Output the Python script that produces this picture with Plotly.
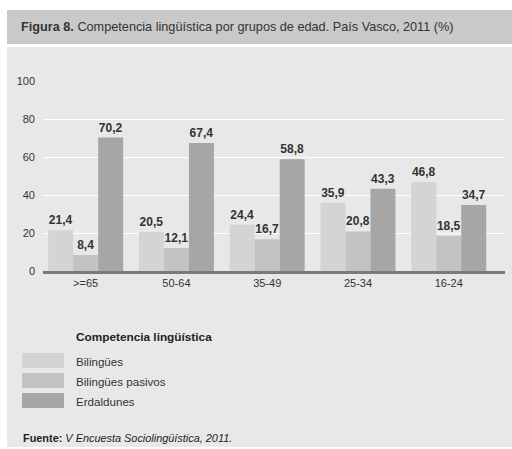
import plotly.graph_objects as go

categories = [">=65", "50-64", "35-49", "25-34", "16-24"]
series_names = ["Bilingües", "Bilingües pasivos", "Erdaldunes"]
bilingues = [21.4, 20.5, 24.4, 35.9, 46.8]
pasivos = [8.4, 12.1, 16.7, 20.8, 18.5]
erdaldunes = [70.2, 67.4, 58.8, 43.3, 34.7]
y_ticks = [0, 20, 40, 60, 80, 100]

values = [bilingues, pasivos, erdaldunes]
colors = ["#d4d4d4", "#c3c3c3", "#a6a6a6"]
FONT = "Liberation Sans"

W, H = 512, 449
L, R, T, B = 43, 7, 81, 178
PW, PH = W - L - R, H - T - B


def px(x):
    return (x - L) / PW


def py(y):
    return (H - B - y) / PH


fig = go.Figure()
for name, vals, col in zip(series_names, values, colors):
    fig.add_trace(go.Bar(
        x=categories, y=vals, name=name, marker=dict(color=col, line=dict(width=0)),
        texttemplate="<b>%{y:.1f}</b>", textposition="outside", cliponaxis=False,
        textfont=dict(family=FONT, size=12, color="#333333"),
        showlegend=False,
    ))

shapes = [
    dict(type="rect", xref="paper", yref="paper", x0=px(7), x1=px(512), y0=py(10), y1=py(44),
         fillcolor="#c9c9c9", line=dict(width=0), layer="below"),
    dict(type="rect", xref="paper", yref="paper", x0=px(7), x1=px(512), y0=py(47), y1=py(447),
         fillcolor="#e8e8e8", line=dict(width=0), layer="below"),
]
annotations = [
    dict(text="<b>Figura 8.</b> Competencia lingüística por grupos de edad. País Vasco, 2011 (%)",
         xref="paper", yref="paper", x=px(19), y=py(27), xanchor="left", yanchor="middle",
         showarrow=False, font=dict(family=FONT, size=12.7, color="#333333")),
    dict(text="<b>Competencia lingüística</b>", xref="paper", yref="paper", x=px(74), y=py(337),
         xanchor="left", yanchor="middle", showarrow=False,
         font=dict(family=FONT, size=11.8, color="#222222")),
    dict(text="<b>Fuente:</b> <i>V Encuesta Sociolingüística, 2011.</i>", xref="paper", yref="paper",
         x=px(21), y=py(438), xanchor="left", yanchor="middle", showarrow=False,
         font=dict(family=FONT, size=10.9, color="#222222")),
]
for i, (name, col) in enumerate(zip(series_names, colors)):
    top = 353 + 20 * i
    shapes.append(dict(type="rect", xref="paper", yref="paper", x0=px(22), x1=px(64),
                       y0=py(top), y1=py(top + 15), fillcolor=col, line=dict(width=0)))
    annotations.append(dict(text=name, xref="paper", yref="paper", x=px(74), y=py(top + 8),
                            xanchor="left", yanchor="middle", showarrow=False,
                            font=dict(family=FONT, size=11.6, color="#333333")))

fig.update_layout(
    width=W, height=H, margin=dict(l=L, r=R, t=T, b=B, pad=0),
    paper_bgcolor="white", plot_bgcolor="#e8e8e8",
    barmode="group", bargap=0.174, bargroupgap=0,
    separators=",.",
    shapes=shapes, annotations=annotations,
    font=dict(family=FONT, size=11, color="#333333"),
    xaxis=dict(range=[-0.47, 4.62], showgrid=False, showline=True, linecolor="#7a7a7a", linewidth=3,
               ticks="", tickfont=dict(family=FONT, size=11, color="#333333"), fixedrange=True),
    yaxis=dict(range=[0, 100], tickvals=y_ticks, showgrid=True, gridcolor="#ffffff", gridwidth=1,
               zeroline=False, showline=False, ticks="", ticklabelstandoff=7,
               tickfont=dict(family=FONT, size=11, color="#333333")),
)
fig.write_html("out.html")
